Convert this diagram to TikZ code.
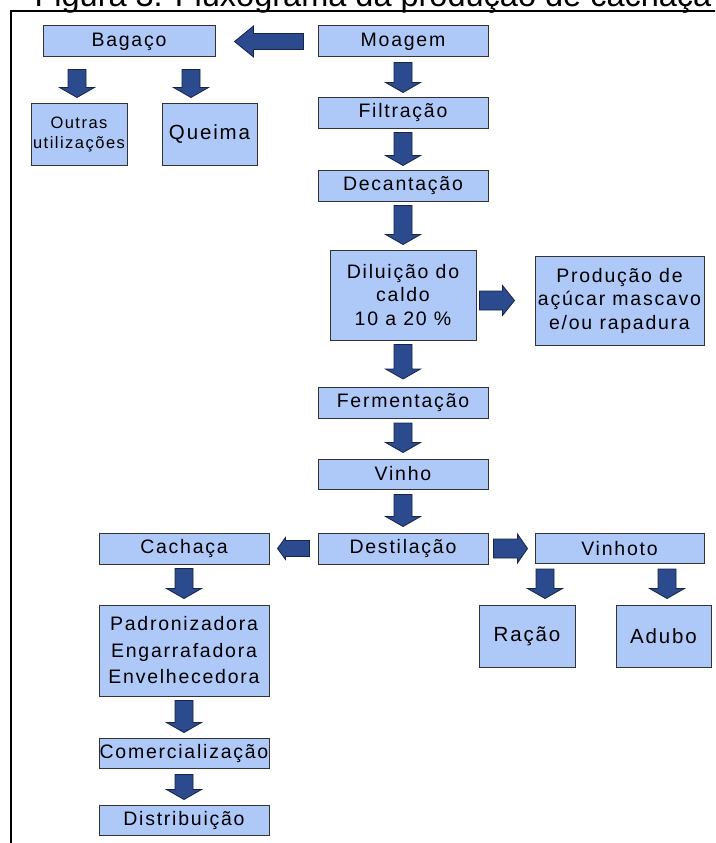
\documentclass[tikz,border=0pt]{standalone}
\usepackage{fontspec}
\setmainfont{Liberation Sans}[LetterSpace=9]
\newfontfamily\titlefont{Liberation Sans}
\usetikzlibrary{calc}
\definecolor{boxblue}{HTML}{AEC8F8}
\definecolor{arrowblue}{HTML}{2C4A8E}
\definecolor{arrowedge}{HTML}{17254A}
\definecolor{boxedge}{HTML}{333333}
\pgfkeys{/tikz/.cd, ashaft/.store in=\arShaft, ahead/.store in=\arHead, alen/.store in=\arLen, ashaft=9pt, ahead=17.5pt, alen=10pt}
\tikzset{
  box/.style={draw=boxedge, line width=1pt, fill=boxblue, inner sep=0pt, align=center, font=\fontsize{19.5}{23}\selectfont},
  blk/.style={draw=arrowedge, fill=arrowblue, line width=0.8pt, line join=miter,
    to path={let \p2=(\tikztostart), \p3=(\tikztotarget), \p1=($(\p3)!\arLen!(\p2)$) in
      ($(\p2)!\arShaft!90:(\p3)$) -- ($(\p1)!\arShaft!90:(\p3)$) -- ($(\p1)!\arHead!90:(\p3)$) -- (\p3)
      -- ($(\p1)!\arHead!-90:(\p3)$) -- ($(\p1)!\arShaft!-90:(\p3)$) -- ($(\p2)!\arShaft!-90:(\p3)$) -- cycle}}
}
\begin{document}
\begin{tikzpicture}[x=1pt, y=-1pt]
\clip (0,0) rectangle (715,843);
\fill[white] (0,0) rectangle (715,843);
% title (cut off at top) and frame
\node[anchor=base, font=\titlefont\fontsize{32.5}{32.5}\selectfont, inner sep=0pt] (title) at (373,7) {Figura 3. Fluxograma da produção de cachaça};
\draw[line width=1.6pt] (11,843) -- (11,11) -- (716,11);
% boxes
\node[box, minimum width=172pt, minimum height=31pt] (bag) at (129,41.5) {Bagaço};
\node[box, minimum width=170pt, minimum height=31pt] (moa) at (403,41.5) {Moagem};
\node[box, minimum width=96pt, minimum height=62pt, font=\fontsize{16.5}{20}\selectfont] (out) at (79,134) {Outras\\utilizações};
\node[box, minimum width=95pt, minimum height=62pt, font=\fontsize{20.5}{24}\selectfont] (que) at (209.5,134) {Queima};
\node[box, minimum width=170pt, minimum height=31pt] (fil) at (403,112.5) {Filtração};
\node[box, minimum width=170pt, minimum height=31pt] (dec) at (403,185.5) {Decantação};
\node[box, minimum width=146pt, minimum height=90pt, font=\fontsize{19.5}{23.5}\selectfont] (dil) at (403,295) {Diluição do\\caldo\\10 a 20 \%};
\node[box, minimum width=169pt, minimum height=89pt, font=\fontsize{19.5}{23.5}\selectfont] (prod) at (619.5,300.5) {Produção de\\açúcar mascavo\\e/ou rapadura};
\node[box, minimum width=170pt, minimum height=31pt] (fer) at (403,403) {Fermentação};
\node[box, minimum width=170pt, minimum height=30pt] (vin) at (403,474) {Vinho};
\node[box, minimum width=170pt, minimum height=31pt] (des) at (403,548.5) {Destilação};
\node[box, minimum width=170pt, minimum height=31pt] (cac) at (184,548.5) {Cachaça};
\node[box, minimum width=169pt, minimum height=30pt] (vho) at (619.5,548.5) {Vinhoto};
\node[box, minimum width=96pt, minimum height=62pt, font=\fontsize{20.5}{24}\selectfont] (rac) at (527,636) {Ração};
\node[box, minimum width=95pt, minimum height=62pt, font=\fontsize{20.5}{24}\selectfont] (adu) at (663.5,636) {Adubo};
\node[box, minimum width=170pt, minimum height=91pt, font=\fontsize{19.5}{26.5}\selectfont] (pad) at (184,650.5) {Padronizadora\\Engarrafadora\\Envelhecedora};
\node[box, minimum width=170pt, minimum height=30pt] (com) at (184,753) {Comercialização};
\node[box, minimum width=170pt, minimum height=30pt] (dis) at (184,820) {Distribuição};
% horizontal block arrows
\draw[blk, ashaft=8pt, ahead=15.5pt, alen=19pt] ([xshift=-14pt]moa.west) to ([xshift=19pt]bag.east);
\draw[blk, ashaft=9.5pt, ahead=15pt, alen=12pt] ($(dil.east |- prod.west)+(3pt,0)$) to ([xshift=-20pt]prod.west);
\draw[blk, ashaft=8pt, ahead=11pt, alen=8pt] ([xshift=-8pt]des.west) to ([xshift=8pt]cac.east);
\draw[blk, ashaft=9.5pt, ahead=14.5pt, alen=10pt] ([xshift=5pt]des.east) to ([xshift=-7pt]vho.west);
% vertical block arrows
\draw[blk] ($(bag.south -| out.north)+(-2pt,-12pt)$) to ($(out.north)+(-2pt,5pt)$);
\draw[blk] ($(bag.south -| que.north)+(-18.5pt,-12pt)$) to ($(que.north)+(-18.5pt,5pt)$);
\draw[blk] ([yshift=-5pt]moa.south) to ([yshift=4pt]fil.north);
\draw[blk] ([yshift=-4pt]fil.south) to ([yshift=4pt]dec.north);
\draw[blk] ([yshift=-4pt]dec.south) to ([yshift=5pt]dil.north);
\draw[blk] ([yshift=-4pt]dil.south) to ([yshift=8pt]fer.north);
\draw[blk] ([yshift=-4pt]fer.south) to ([yshift=6pt]vin.north);
\draw[blk] ([yshift=-5pt]vin.south) to ([yshift=6pt]des.north);
\draw[blk] ([yshift=-4pt]cac.south) to ([yshift=6pt]pad.north);
\draw[blk] ([yshift=-4pt]pad.south) to ([yshift=5pt]com.north);
\draw[blk] ([yshift=-6pt]com.south) to ([yshift=5pt]dis.north);
\draw[blk] ($(vho.south -| rac.north)+(18pt,-5pt)$) to ($(rac.north)+(18pt,6pt)$);
\draw[blk] ($(vho.south -| adu.north)+(3.5pt,-5pt)$) to ($(adu.north)+(3.5pt,6pt)$);
\end{tikzpicture}
\end{document}
